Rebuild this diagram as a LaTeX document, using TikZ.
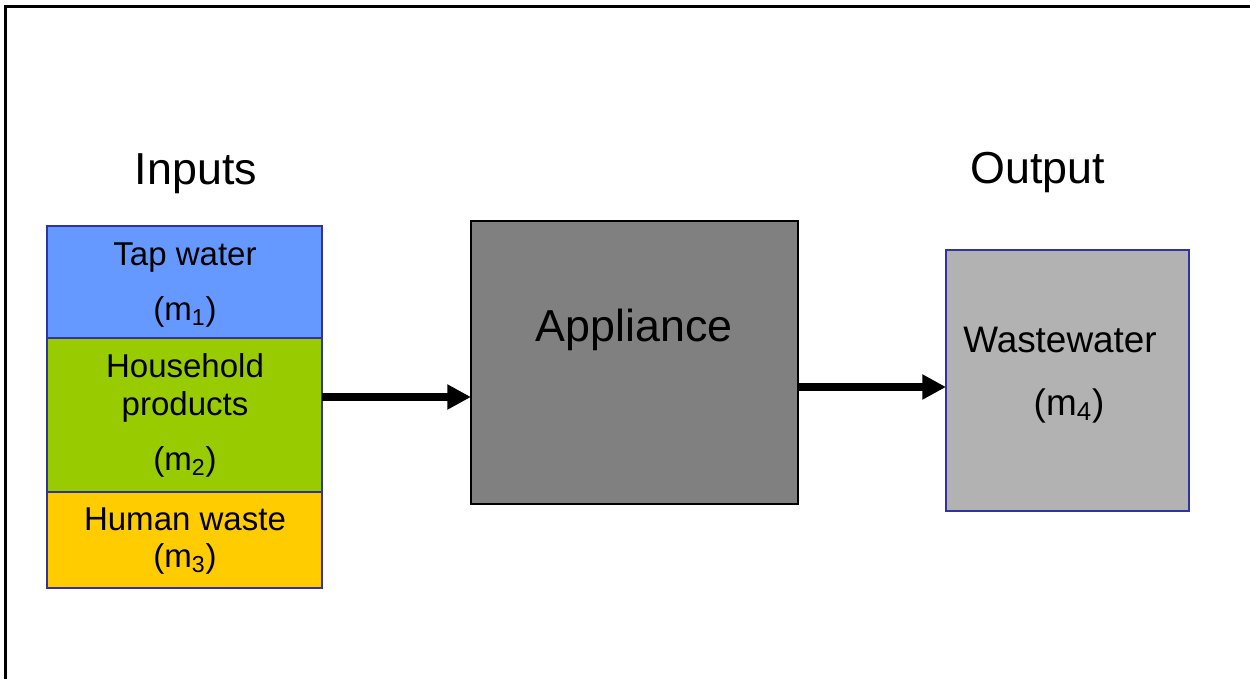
\documentclass[tikz,border=0pt]{standalone}
\usepackage{fontspec}
\setmainfont{Liberation Sans}
\usetikzlibrary{arrows.meta}
\definecolor{tapblue}{HTML}{6699FF}
\definecolor{hhgreen}{HTML}{99CC00}
\definecolor{wasteyellow}{HTML}{FFCC00}
\definecolor{appgray}{HTML}{808080}
\definecolor{outgray}{HTML}{B2B2B2}
\definecolor{edgeblue}{HTML}{3333A0}
\newcommand{\smalltxt}{\fontsize{18.8}{22}\selectfont}
\newcommand{\bigtxt}{\fontsize{25.5}{30}\selectfont}
\newcommand{\midtxt}{\fontsize{21}{25}\selectfont}
\begin{document}
\begin{tikzpicture}[x=0.02cm,y=-0.02cm,
  inbox/.style={draw=edgeblue,line width=0.8pt,inner sep=0pt,outer sep=0pt},
  txt/.style={inner sep=0pt,anchor=base},
  flow/.style={line width=4pt,-{Triangle[length=13.5pt,width=13.5pt]}}]
\useasboundingbox (0,0) rectangle (1250,679);
% page frame (only left and top edges fall inside the picture)
\draw[line width=1.3pt] (5.5,690) -- (5.5,6.5) -- (1260,6.5);

% input stack
\draw[inbox,fill=tapblue] (47,226) rectangle (322,338);
\draw[inbox,fill=hhgreen] (47,338) rectangle (322,492);
\draw[inbox,fill=wasteyellow] (47,492) rectangle (322,588);
\node[inner sep=0pt,outer sep=0pt,minimum width=275*0.02cm,minimum height=362*0.02cm] (inputs) at (184.5,407) {};

\node[txt] (tapL) at (185,265) {\smalltxt Tap water};
\node[txt] (m1) at (185,320) {\smalltxt (m\textsubscript{1})};
\node[txt] (hhL) at (185,377) {\smalltxt Household};
\node[txt] (hhL2) at (185,415) {\smalltxt products};
\node[txt] (m2) at (185,470) {\smalltxt (m\textsubscript{2})};
\node[txt] (huL) at (185,530) {\smalltxt Human waste};
\node[txt] (m3) at (185,567) {\smalltxt (m\textsubscript{3})};

\node[txt] (inT) at (196,184) {\bigtxt Inputs};
\node[txt] (outT) at (1038,183) {\bigtxt Output};

% appliance
\node[draw=black,line width=1.2pt,fill=appgray,inner sep=0pt,outer sep=0pt,
  minimum width=327*0.02cm,minimum height=283*0.02cm] (app) at (634.5,362.5) {};
\node[txt] (appL) at (634,341) {\bigtxt Appliance};

% wastewater
\node[draw=edgeblue,line width=1.1pt,fill=outgray,inner sep=0pt,outer sep=0pt,
  minimum width=243*0.02cm,minimum height=261*0.02cm] (ww) at (1067.5,380.5) {};
\node[txt] (wwL) at (1060,352) {\midtxt Wastewater};
\node[txt] (m4) at (1069,415) {\midtxt (m\textsubscript{4})};

% flows
\coordinate (f1) at (0,397);
\coordinate (f2) at (0,387);
\draw[flow] (inputs.east |- f1) -- (app.west |- f1);
\draw[flow] (app.east |- f2) -- (ww.west |- f2);
\end{tikzpicture}
\end{document}
